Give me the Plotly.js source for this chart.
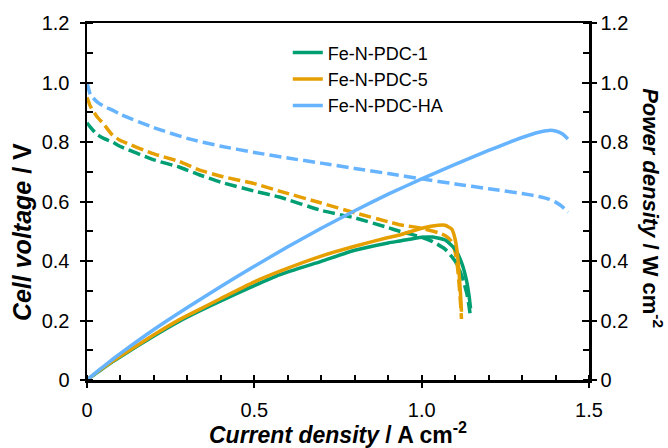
<!DOCTYPE html>
<html>
<head>
<meta charset="utf-8">
<script src="https://cdn.plot.ly/plotly-3.0.1.min.js"></script>
<style>html,body{margin:0;padding:0;background:#fff;}#chart{width:668px;height:448px;}</style>
</head>
<body>
<div id="chart"></div>
<script>
// ---- data ----
const seriesNames = ['Fe-N-PDC-1', 'Fe-N-PDC-5', 'Fe-N-PDC-HA'];
const seriesColors = ['#009E73', '#E69F00', '#66B3FF'];

// Fe-N-PDC-1
const current1 = [0, 0.01, 0.03, 0.05, 0.076, 0.1, 0.2, 0.275, 0.335, 0.4, 0.5, 0.575, 0.7, 0.8, 0.9, 0.934, 1.0, 1.033, 1.07, 1.1, 1.12, 1.135, 1.142, 1.146];
const voltage1 = [0.865, 0.85, 0.825, 0.812, 0.80, 0.785, 0.74, 0.716, 0.69, 0.665, 0.635, 0.615, 0.57, 0.545, 0.512, 0.50, 0.48, 0.465, 0.44, 0.40, 0.35, 0.29, 0.245, 0.21];
const power1   = [0, 0.0085, 0.0248, 0.0406, 0.0608, 0.0785, 0.148, 0.1969, 0.2312, 0.266, 0.3175, 0.3536, 0.399, 0.436, 0.4608, 0.467, 0.48, 0.4803, 0.4708, 0.44, 0.392, 0.3292, 0.2798, 0.2407];

// Fe-N-PDC-5
const current5 = [0, 0.01, 0.03, 0.05, 0.076, 0.1, 0.2, 0.275, 0.335, 0.4, 0.5, 0.575, 0.7, 0.8, 0.9, 0.934, 1.0, 1.05, 1.07, 1.09, 1.10, 1.107, 1.112, 1.116, 1.119];
const voltage5 = [0.95, 0.92, 0.885, 0.86, 0.823, 0.805, 0.76, 0.735, 0.706, 0.685, 0.66, 0.635, 0.595, 0.562, 0.532, 0.522, 0.51, 0.495, 0.486, 0.465, 0.43, 0.38, 0.32, 0.26, 0.205];
const power5   = [0, 0.0092, 0.0266, 0.043, 0.0625, 0.0805, 0.152, 0.2021, 0.2365, 0.274, 0.33, 0.3651, 0.4165, 0.4496, 0.4788, 0.4875, 0.51, 0.5198, 0.52, 0.5069, 0.473, 0.4207, 0.3558, 0.2902, 0.2294];

// Fe-N-PDC-HA
const currentHA = [0, 0.01, 0.03, 0.05, 0.076, 0.1, 0.2, 0.3, 0.4, 0.5, 0.6, 0.7, 0.8, 0.9, 1.0, 1.1, 1.2, 1.3, 1.35, 1.38, 1.40, 1.42, 1.437];
const voltageHA = [1.0, 0.96, 0.935, 0.92, 0.907, 0.893, 0.848, 0.812, 0.786, 0.765, 0.746, 0.729, 0.711, 0.694, 0.676, 0.659, 0.643, 0.627, 0.617, 0.608, 0.598, 0.583, 0.564];
const powerHA   = [0, 0.0096, 0.0281, 0.046, 0.0689, 0.0893, 0.1696, 0.2436, 0.3144, 0.3825, 0.4476, 0.5103, 0.5688, 0.6246, 0.676, 0.7249, 0.7716, 0.8151, 0.833, 0.839, 0.8372, 0.8279, 0.8105];

const xTickVals = [0, 0.5, 1.0, 1.5];
const xTickText = ['0', '0.5', '1.0', '1.5'];
const yTickVals = [0, 0.2, 0.4, 0.6, 0.8, 1.0, 1.2];
const yTickText = ['0', '0.2', '0.4', '0.6', '0.8', '1.0', '1.2'];

const xTitle = '<b><i>Current density</i> / A cm<sup>-2</sup></b>';
const yTitle = '<b><i>Cell voltage</i> / V</b>';
const y2Title = '<b><i>Power density</i> / W cm<sup>-2</sup></b>';

// ---- traces ----
const currents = [current1, current5, currentHA];
const voltages = [voltage1, voltage5, voltageHA];
const powers = [power1, power5, powerHA];

const traces = [];
for (let i = 0; i < 3; i++) {
  traces.push({
    x: currents[i], y: voltages[i], type: 'scatter', mode: 'lines',
    xaxis: 'x', yaxis: 'y', showlegend: false, hoverinfo: 'skip',
    line: {color: seriesColors[i], width: 3.5, dash: '12px,5px', shape: 'spline', smoothing: 0.5}
  });
}
for (let i = 0; i < 3; i++) {
  traces.push({
    x: currents[i], y: powers[i], type: 'scatter', mode: 'lines',
    xaxis: 'x', yaxis: 'y2', name: seriesNames[i], showlegend: true,
    line: {color: seriesColors[i], width: 3.5, shape: 'spline', smoothing: 0.5}
  });
}
// empty helper traces for the inner halves of the crossing major ticks
traces.push({x: [], y: [], xaxis: 'x3', yaxis: 'y', showlegend: false, hoverinfo: 'skip'});
traces.push({x: [], y: [], xaxis: 'x', yaxis: 'y3', showlegend: false, hoverinfo: 'skip'});
traces.push({x: [], y: [], xaxis: 'x', yaxis: 'y4', showlegend: false, hoverinfo: 'skip'});

const tickCol = '#000';
const minorX = {tickmode: 'linear', tick0: 0, dtick: 0.1, ticks: 'inside', ticklen: 5, tickwidth: 2, tickcolor: tickCol};
const minorY = {tickmode: 'linear', tick0: 0, dtick: 0.1, ticks: 'inside', ticklen: 6, tickwidth: 2, tickcolor: tickCol};

const layout = {
  width: 668, height: 448,
  margin: {l: 87, r: 79, t: 23, b: 68, pad: 0},
  paper_bgcolor: '#fff', plot_bgcolor: '#fff',
  font: {family: '"Liberation Sans", Arial, sans-serif', size: 20, color: '#000'},
  showlegend: true,
  legend: {x: 0.40, y: 0.968, xanchor: 'left', yanchor: 'top', bgcolor: 'rgba(0,0,0,0)',
           font: {size: 18}, tracegroupgap: 0},
  xaxis: {range: [0, 1.5], tickmode: 'array', tickvals: xTickVals, ticktext: xTickText,
          ticks: 'outside', ticklen: 5, tickwidth: 2, tickcolor: tickCol, ticklabelstandoff: 5,
          showline: true, linewidth: 2.5, linecolor: '#000', mirror: true,
          showgrid: false, zeroline: false, minor: minorX},
  xaxis3: {range: [0, 1.5], overlaying: 'x', anchor: 'y', side: 'bottom',
           tickmode: 'array', tickvals: xTickVals, ticks: 'inside', ticklen: 5, tickwidth: 2,
           tickcolor: tickCol, showticklabels: false, showline: false, showgrid: false, zeroline: false},
  yaxis: {range: [0, 1.2], tickmode: 'array', tickvals: yTickVals, ticktext: yTickText,
          ticks: 'outside', ticklen: 5, tickwidth: 2, tickcolor: tickCol, ticklabelstandoff: 6,
          showline: true, linewidth: 2.5, linecolor: '#000', mirror: false,
          showgrid: false, zeroline: false, minor: minorY},
  yaxis2: {range: [0, 1.2], overlaying: 'y', side: 'right', anchor: 'x',
           tickmode: 'array', tickvals: yTickVals, ticktext: yTickText, tickprefix: '\u00a0\u00a0',
           ticks: 'outside', ticklen: 5, tickwidth: 2, tickcolor: tickCol,
           showline: true, linewidth: 2.5, linecolor: '#000',
           showgrid: false, zeroline: false, minor: minorY},
  yaxis3: {range: [0, 1.2], overlaying: 'y', side: 'left', anchor: 'x',
           tickmode: 'array', tickvals: yTickVals, ticks: 'inside', ticklen: 6, tickwidth: 2,
           tickcolor: tickCol, showticklabels: false, showline: false, showgrid: false, zeroline: false},
  yaxis4: {range: [0, 1.2], overlaying: 'y', side: 'right', anchor: 'x',
           tickmode: 'array', tickvals: yTickVals, ticks: 'inside', ticklen: 7, tickwidth: 2,
           tickcolor: tickCol, showticklabels: false, showline: false, showgrid: false, zeroline: false},
  annotations: [
    {text: xTitle, xref: 'paper', yref: 'paper', x: 0.5, y: -0.148, xanchor: 'center', yanchor: 'middle',
     showarrow: false, font: {size: 23}},
    {text: yTitle, xref: 'paper', yref: 'paper', x: -0.129, y: 0.415, xanchor: 'center', yanchor: 'middle',
     textangle: -90, showarrow: false, font: {size: 25}},
    {text: y2Title, xref: 'paper', yref: 'paper', x: 1.127, y: 0.482, xanchor: 'center', yanchor: 'middle',
     textangle: 90, showarrow: false, font: {size: 22}}
  ]
};

Plotly.newPlot('chart', traces, layout, {displayModeBar: false, staticPlot: true});
</script>
</body>
</html>
